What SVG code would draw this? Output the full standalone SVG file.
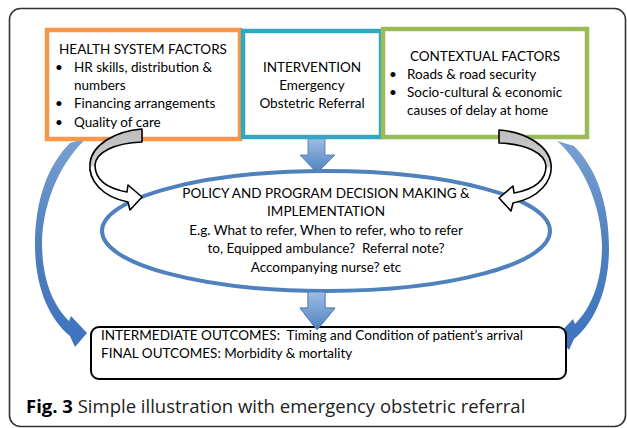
<svg xmlns="http://www.w3.org/2000/svg" width="627" height="428" viewBox="0 0 627 428">
<style>
.t{font-family:Lato,"Open Sans",sans-serif;font-size:13.5px;fill:#000;white-space:pre}
.c{text-anchor:middle}
.box{fill:#fff;stroke-width:4.5}
.blk{stroke:#4a77ad;stroke-width:0.8}
.crv{fill:url(#cg);stroke:#000;stroke-width:1.6;stroke-linejoin:round}
.cap{font-family:"Open Sans",sans-serif;font-size:18.5px;fill:#222}
</style>
<defs>
<linearGradient id="bg" x1="0" y1="0" x2="0" y2="1">
<stop offset="0" stop-color="#9dbde6"/>
<stop offset="1" stop-color="#4f81bd"/>
</linearGradient>
<linearGradient id="lg" x1="0" y1="0" x2="0" y2="1">
<stop offset="0" stop-color="#7aa0d2"/>
<stop offset="0.5" stop-color="#4f81bd"/>
<stop offset="1" stop-color="#3d72bf"/>
</linearGradient>
<linearGradient id="cg" x1="0" y1="0" x2="0" y2="1">
<stop offset="0" stop-color="#bdbdbd"/>
<stop offset="0.44" stop-color="#cfcfcf"/>
<stop offset="0.48" stop-color="#fff"/>
<stop offset="1" stop-color="#fff"/>
</linearGradient>
</defs>
<rect x="9.5" y="8.5" width="616" height="418" rx="11" fill="#fff" stroke="#333" stroke-width="1.6"/>

<g id="connectors">
<path id="left-blue" fill="url(#lg)" d="M70,143 L87,138 C62,160 43,200 42,242 C42,280 53,305 69,321 L71,316 L87,333 L75,347 L70,336 C48,318 35,285 35,245 C35,200 48,165 70,143 Z"/>
<path id="right-blue" fill="url(#lg)" transform="translate(644,3) scale(-1,1)" d="M70,143 L87,138 C62,160 43,200 42,242 C42,280 53,305 69,321 L71,316 L87,333 L75,347 L70,336 C48,318 35,285 35,245 C35,200 48,165 70,143 Z"/>
<path id="down1" class="blk" fill="url(#bg)" d="M308,138 L325,138 L325,155 L335,155 L317,173 L300,155 L308,155 Z"/>
<path id="down2" class="blk" fill="url(#bg)" d="M308,292 L325,292 L325,308 L335,308 L317,330 L300,308 L308,308 Z"/>
</g>

<g id="health">
<rect class="box" x="47" y="30" width="193" height="109" stroke="#f79646"/>
<text class="t c" x="143" y="54">HEALTH SYSTEM FACTORS</text>
<text class="t" x="55" y="72">•</text><text class="t" x="74" y="72">HR skills, distribution &amp;</text>
<text class="t" x="74" y="90">numbers</text>
<text class="t" x="55" y="108">•</text><text class="t" x="74" y="108">Financing arrangements</text>
<text class="t" x="55" y="127">•</text><text class="t" x="74" y="127">Quality of care</text>
</g>

<g id="intervention">
<rect class="box" x="243" y="31" width="138" height="106" stroke="#33a6c2"/>
<text class="t c" x="312" y="72">INTERVENTION</text>
<text class="t c" x="312" y="90">Emergency</text>
<text class="t c" x="312" y="108">Obstetric Referral</text>
</g>

<g id="contextual">
<rect class="box" x="383" y="29" width="204" height="108" stroke="#9bbb59"/>
<text class="t c" x="485" y="61">CONTEXTUAL FACTORS</text>
<text class="t" x="389" y="79">•</text><text class="t" x="407" y="79">Roads &amp; road security</text>
<text class="t" x="389" y="97">•</text><text class="t" x="407" y="97">Socio-cultural &amp; economic</text>
<text class="t" x="407" y="115">causes of delay at home</text>
</g>

<g id="policy">
<ellipse cx="326" cy="231" rx="224" ry="60" fill="none" stroke="#4f81bd" stroke-width="4"/>
<text class="t c" x="326" y="198">POLICY AND PROGRAM DECISION MAKING &amp;</text>
<text class="t c" x="326" y="216">IMPLEMENTATION</text>
<text class="t c" x="326" y="235">E.g. What to refer, When to refer, who to refer</text>
<text class="t c" x="326" y="253">to, Equipped ambulance?  Referral note?</text>
<text class="t c" x="326" y="272">Accompanying nurse? etc</text>
</g>

<g id="gray-arrows">
<path id="left-gray" class="crv" d="M142,129 L142,142 C115,143 96,152 95,165 C95,178 105,188 127,192 L128,185 L142,197 L130,210 L128,202 C102,197 88,180 90,163 C92,145 115,131 142,129 Z"/>
<path id="right-gray" class="crv" transform="translate(641,1) scale(-1,1)" d="M142,129 L142,142 C115,143 96,152 95,165 C95,178 105,188 127,192 L128,185 L142,197 L130,210 L128,202 C102,197 88,180 90,163 C92,145 115,131 142,129 Z"/>
</g>

<g id="outcomes">
<rect x="91" y="327" width="475" height="52" rx="8" fill="#fff" stroke="#000" stroke-width="2"/>
<text class="t" x="101" y="340">INTERMEDIATE OUTCOMES:  Timing and Condition of patient’s arrival</text>
<text class="t" x="101" y="358">FINAL OUTCOMES: Morbidity &amp; mortality</text>
</g>
<use href="#down2"/>

<text class="cap" x="26" y="413"><tspan font-weight="bold" fill="#000">Fig. 3</tspan> Simple illustration with emergency obstetric referral</text>
</svg>
